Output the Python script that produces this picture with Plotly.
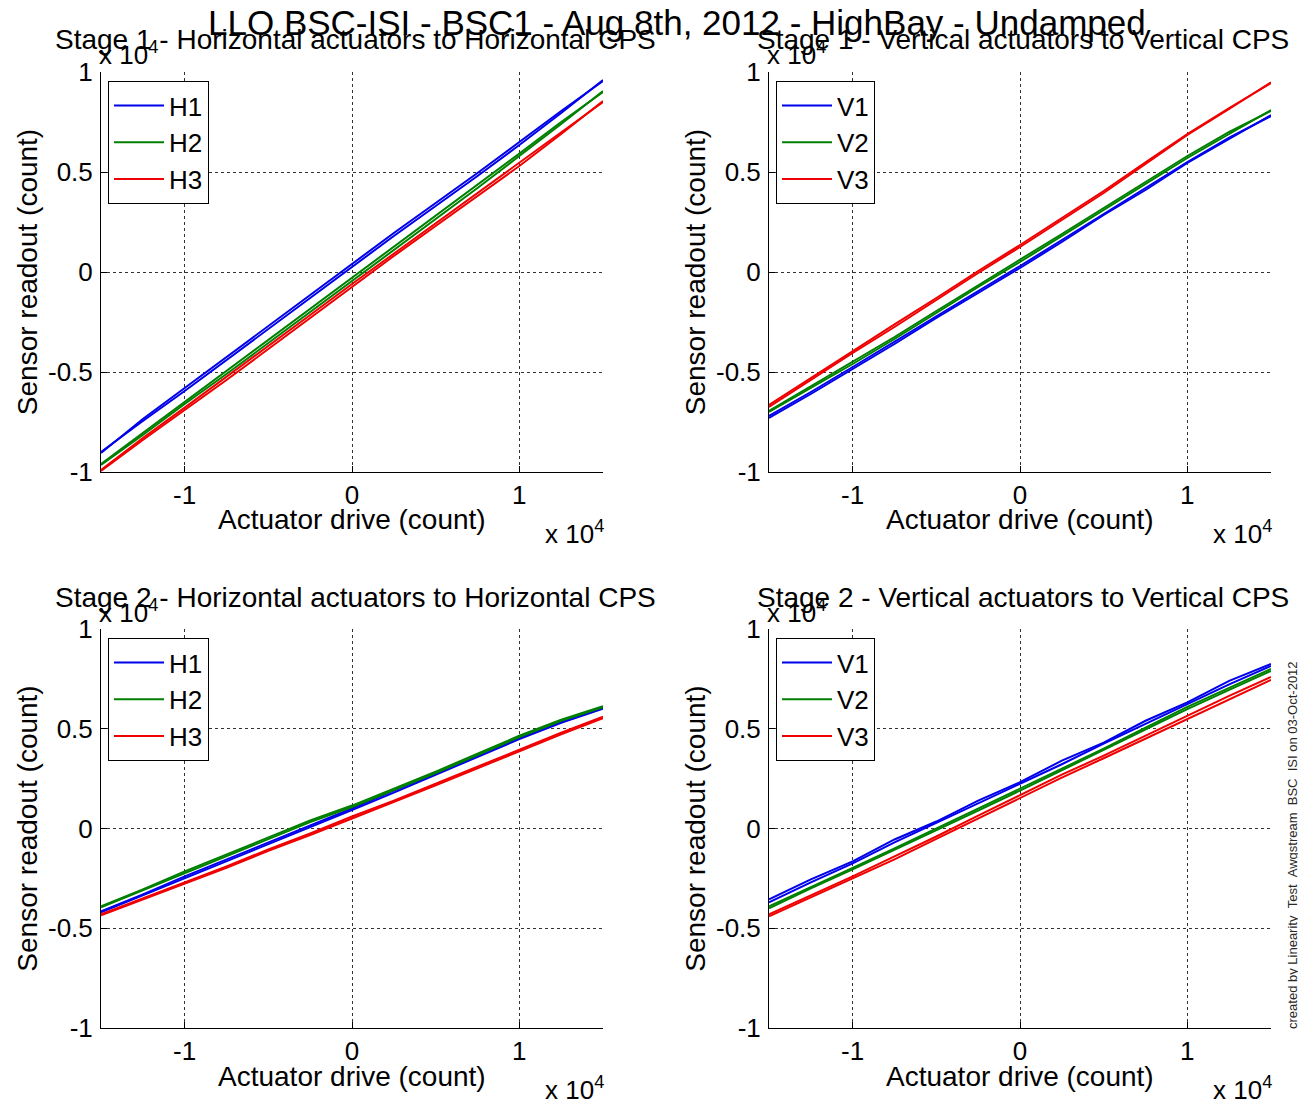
import plotly.graph_objects as go

# the page has an 8px body margin, so the figure is drawn that much smaller
OFF = 8
W, H = 1306 - OFF, 1103 - OFF
FONT = "Liberation Sans, Arial, sans-serif"

SUPTITLE = "LLO BSC-ISI - BSC1 - Aug 8th, 2012 - HighBay - Undamped"
TITLES = [
    "Stage 1 - Horizontal actuators to Horizontal CPS",
    "Stage 1 - Vertical actuators to Vertical CPS",
    "Stage 2 - Horizontal actuators to Horizontal CPS",
    "Stage 2 - Vertical actuators to Vertical CPS",
]
NAMES = [["H1", "H2", "H3"], ["V1", "V2", "V3"], ["H1", "H2", "H3"], ["V1", "V2", "V3"]]
COLORS = ["rgb(0,0,235)", "rgb(0,128,0)", "rgb(240,0,0)"]

# actuator drive (x 10^4 counts)
ACT_DRIVE = [-1.5, -1.25, -1.0, -0.75, -0.5, -0.25, 0.0, 0.25, 0.5, 0.75, 1.0, 1.25, 1.5]

# sensor readout (x 10^4 counts), sweep up / sweep down
# stage 1 horizontal
S1_H1_UP = [-0.90, -0.745, -0.595, -0.44, -0.285, -0.13, 0.025, 0.18, 0.33, 0.48, 0.635, 0.795, 0.96]
S1_H1_DN = [-0.905, -0.735, -0.58, -0.425, -0.27, -0.115, 0.04, 0.195, 0.345, 0.495, 0.65, 0.805, 0.955]
S1_H2_UP = [-0.965, -0.815, -0.66, -0.51, -0.355, -0.20, -0.045, 0.11, 0.265, 0.42, 0.58, 0.74, 0.905]
S1_H2_DN = [-0.96, -0.805, -0.648, -0.495, -0.34, -0.185, -0.03, 0.125, 0.28, 0.435, 0.592, 0.75, 0.90]
S1_H3_UP = [-0.995, -0.84, -0.69, -0.54, -0.385, -0.23, -0.075, 0.08, 0.23, 0.38, 0.53, 0.69, 0.855]
S1_H3_DN = [-0.99, -0.83, -0.678, -0.525, -0.37, -0.215, -0.06, 0.092, 0.245, 0.395, 0.545, 0.70, 0.85]
# stage 1 vertical
S1_V1_UP = [-0.73, -0.61, -0.485, -0.36, -0.23, -0.105, 0.02, 0.15, 0.285, 0.41, 0.545, 0.665, 0.785]
S1_V1_DN = [-0.72, -0.60, -0.475, -0.35, -0.222, -0.095, 0.03, 0.16, 0.29, 0.42, 0.55, 0.672, 0.78]
S1_V2_UP = [-0.70, -0.58, -0.46, -0.335, -0.205, -0.075, 0.05, 0.18, 0.31, 0.44, 0.57, 0.69, 0.81]
S1_V2_DN = [-0.695, -0.572, -0.45, -0.325, -0.195, -0.065, 0.062, 0.19, 0.32, 0.45, 0.58, 0.70, 0.805]
S1_V3_UP = [-0.675, -0.54, -0.405, -0.275, -0.14, -0.005, 0.125, 0.26, 0.395, 0.54, 0.685, 0.815, 0.948]
S1_V3_DN = [-0.665, -0.53, -0.395, -0.262, -0.13, 0.005, 0.135, 0.27, 0.405, 0.548, 0.69, 0.82, 0.945]
# stage 2 horizontal
S2_H1_UP = [-0.415, -0.33, -0.24, -0.155, -0.07, 0.015, 0.10, 0.19, 0.275, 0.365, 0.455, 0.535, 0.607]
S2_H1_DN = [-0.42, -0.335, -0.25, -0.165, -0.08, 0.005, 0.092, 0.18, 0.268, 0.358, 0.448, 0.53, 0.60]
S2_H2_UP = [-0.39, -0.305, -0.215, -0.13, -0.045, 0.04, 0.115, 0.20, 0.285, 0.375, 0.465, 0.545, 0.613]
S2_H2_DN = [-0.395, -0.31, -0.222, -0.138, -0.052, 0.032, 0.108, 0.193, 0.278, 0.368, 0.458, 0.54, 0.608]
S2_H3_UP = [-0.43, -0.35, -0.27, -0.19, -0.105, -0.025, 0.06, 0.14, 0.225, 0.31, 0.395, 0.48, 0.56]
S2_H3_DN = [-0.435, -0.357, -0.277, -0.197, -0.112, -0.033, 0.05, 0.132, 0.217, 0.302, 0.388, 0.472, 0.553]
# stage 2 vertical
S2_V1_UP = [-0.355, -0.255, -0.165, -0.055, 0.035, 0.14, 0.232, 0.34, 0.43, 0.54, 0.632, 0.74, 0.825]
S2_V1_DN = [-0.37, -0.27, -0.175, -0.07, 0.028, 0.125, 0.225, 0.322, 0.425, 0.525, 0.625, 0.722, 0.815]
S2_V2_UP = [-0.39, -0.295, -0.198, -0.10, 0.0, 0.10, 0.20, 0.30, 0.40, 0.505, 0.61, 0.705, 0.80]
S2_V2_DN = [-0.40, -0.30, -0.205, -0.108, -0.01, 0.09, 0.19, 0.292, 0.392, 0.495, 0.598, 0.695, 0.79]
S2_V3_UP = [-0.43, -0.335, -0.24, -0.14, -0.04, 0.065, 0.168, 0.27, 0.365, 0.465, 0.568, 0.665, 0.76]
S2_V3_DN = [-0.44, -0.345, -0.25, -0.155, -0.052, 0.05, 0.155, 0.255, 0.352, 0.45, 0.552, 0.65, 0.745]

PANELS = [
    [(S1_H1_UP, S1_H1_DN), (S1_H2_UP, S1_H2_DN), (S1_H3_UP, S1_H3_DN)],
    [(S1_V1_UP, S1_V1_DN), (S1_V2_UP, S1_V2_DN), (S1_V3_UP, S1_V3_DN)],
    [(S2_H1_UP, S2_H1_DN), (S2_H2_UP, S2_H2_DN), (S2_H3_UP, S2_H3_DN)],
    [(S2_V1_UP, S2_V1_DN), (S2_V2_UP, S2_V2_DN), (S2_V3_UP, S2_V3_DN)],
]

X_TICKS = [-1, 0, 1]
Y_TICKS = [-1, -0.5, 0, 0.5, 1]


# positions below are page pixels, converted to paper coords
def px_x(p):
    return (p - OFF) / W


def px_y(p):
    return 1 - (p - OFF) / H


# axes boxes: left, right, top, bottom
BOXES = [(101, 603, 72, 472), (769, 1271, 72, 472), (101, 603, 629, 1028), (769, 1271, 629, 1028)]

fig = go.Figure()
layout = dict(
    template="none",
    width=W, height=H,
    margin=dict(l=0, r=0, t=0, b=0, pad=0),
    paper_bgcolor="white", plot_bgcolor="white",
    font=dict(family=FONT, color="black", size=26),
    annotations=[],
)


def note(text, x, y, size, **kw):
    return dict(text=text, x=px_x(x), y=px_y(y), xref="paper", yref="paper",
                showarrow=False, yanchor="middle", font=dict(size=size), **kw)


for i, series in enumerate(PANELS):
    n = "" if i == 0 else str(i + 1)
    leg = "legend" + n
    for j, (up, dn) in enumerate(series):
        for k, ys in enumerate((up, dn)):
            fig.add_trace(go.Scatter(
                x=ACT_DRIVE, y=ys, mode="lines",
                name=NAMES[i][j], legendgroup=NAMES[i][j] + n,
                showlegend=(k == 0), legend=leg,
                line=dict(color=COLORS[j], width=2),
                xaxis="x" + n, yaxis="y" + n,
            ))

    l, r, t, b = BOXES[i]
    axis_common = dict(
        automargin=False,
        showgrid=True, gridcolor="rgb(50,50,50)", gridwidth=1, griddash="dot",
        zeroline=False, showline=True, linecolor="black", linewidth=1,
        ticks="inside", ticklen=6, tickcolor="black", mirror=False,
        tickfont=dict(size=26),
    )
    layout["xaxis" + n] = dict(
        axis_common, domain=[px_x(l), px_x(r)], range=[-1.5, 1.5],
        tickvals=X_TICKS, ticktext=["-1", "0", "1"], anchor="y" + n,
        ticklabelstandoff=0,
    )
    layout["yaxis" + n] = dict(
        axis_common, domain=[px_y(b), px_y(t)], range=[-1, 1],
        tickvals=Y_TICKS, ticktext=["-1", "-0.5", "0", "0.5", "1"], anchor="x" + n,
        ticklabelstandoff=2,
        title=dict(text="Sensor readout (count)", font=dict(size=28), standoff=2),
    )
    layout[leg] = dict(
        x=px_x(l + 7), y=px_y(t + 9), xanchor="left", yanchor="top",
        bordercolor="black", borderwidth=1, bgcolor="white",
        font=dict(size=26), traceorder="normal", tracegroupgap=0, itemwidth=50,
    )

    cx = (l + r) / 2
    layout["annotations"] += [
        note(TITLES[i], cx + 3, t - 32, 28, xanchor="center"),
        note("x 10<sup>4</sup>", l - 4, t - 18, 26, xanchor="left"),
        note("Actuator drive (count)", cx, b + 48, 28, xanchor="center"),
        note("x 10<sup>4</sup>", r - 60, b + 60, 26, xanchor="left"),
    ]

layout["annotations"] += [
    note(SUPTITLE, 677, 22, 35, xanchor="center"),
    dict(note("created by Linearity_Test_Awgstream_BSC_ISI on 03-Oct-2012", 1292, 845, 13,
              xanchor="center", textangle=-90), font=dict(size=13, color="rgb(40,40,40)")),
]

fig.update_layout(layout)
fig.write_html("out.html")
